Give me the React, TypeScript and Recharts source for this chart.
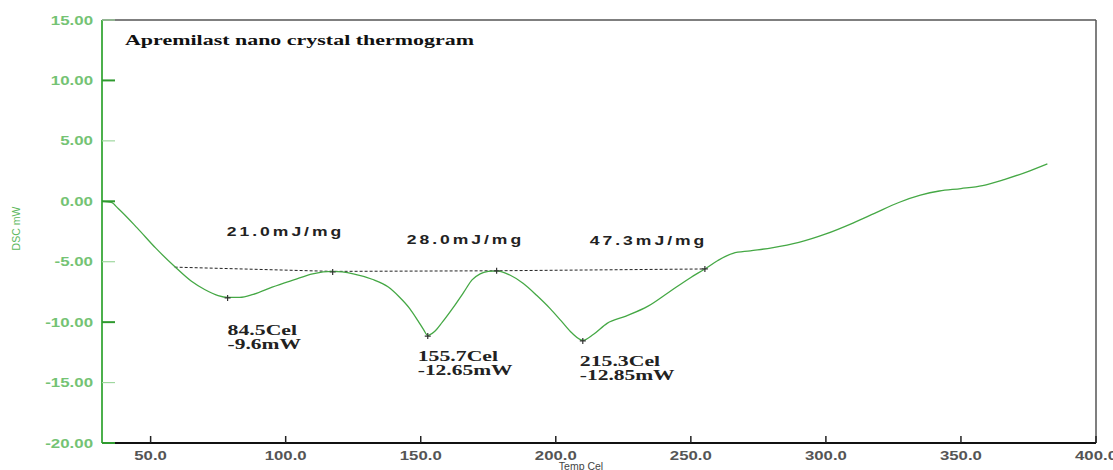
import React from 'react';
import { ComposedChart, Line, Scatter, XAxis, YAxis, ReferenceLine, ReferenceDot, Label } from 'recharts';

// temperature (Cel) / heat flow (mW)
const curve: [number, number][] = [
	[32.2, 0.0], [35.5, -0.1], [38, -0.6], [45, -2.2], [52, -3.9], [58.9, -5.4],
	[65, -6.6], [70, -7.3], [75, -7.8], [78.5, -7.95], [83, -7.95], [88, -7.7],
	[95, -7.1], [103, -6.5], [110, -6.0], [117.4, -5.8], [125, -6.0], [132, -6.45],
	[138, -7.1], [142, -7.9], [146, -8.9], [149, -9.9], [151, -10.6], [152.6, -11.1],
	[155, -10.8], [158, -10.0], [162, -8.8], [166, -7.5], [169, -6.5], [172, -6.0],
	[175, -5.8], [178.1, -5.75], [183, -6.1], [188, -6.8], [193, -7.8], [198, -8.9],
	[202, -9.9], [206, -10.9], [210, -11.5], [214, -11.0], [219, -10.1], [226, -9.5],
	[234, -8.7], [242, -7.5], [250, -6.3], [255.2, -5.6], [260, -4.9], [265.6, -4.3],
	[272, -4.1], [280, -3.85], [290, -3.4], [300, -2.7], [310, -1.8], [318, -1.0],
	[327, -0.1], [335, 0.5], [342, 0.85], [350, 1.05], [358, 1.3], [366, 1.8],
	[374, 2.4], [382, 3.1],
];

const baseline: [number, number][] = [[58.9, -5.45], [117.4, -5.8], [178.1, -5.75], [255.2, -5.6]];

const peakMarks: [number, number][] = [
	[78.5, -8.0], [117.4, -5.85], [152.6, -11.15], [178.1, -5.75], [210, -11.55], [255.2, -5.6],
];

const enthalpyLabels = [
	{ x: 78.2, y: -2.87, text: '21.0mJ/mg' },
	{ x: 144.8, y: -3.53, text: '28.0mJ/mg' },
	{ x: 212.6, y: -3.62, text: '47.3mJ/mg' },
];

const peakLabels = [
	{ x: 78.5, y: -11.1, temp: '84.5Cel', power: '-9.6mW' },
	{ x: 148.9, y: -13.2, temp: '155.7Cel', power: '-12.65mW' },
	{ x: 208.9, y: -13.6, temp: '215.3Cel', power: '-12.85mW' },
];

const xTicks = [50, 100, 150, 200, 250, 300, 350, 400];
const yTicks = [-20, -15, -10, -5, 0, 5, 10, 15];

const toPts = (arr: [number, number][]) => arr.map(([x, y]) => ({ x, y }));

const XTick = (props: any) => {
	const { x, y, payload } = props;
	return (
		<g>
			<line x1={x} y1={y} x2={x} y2={y - 7} stroke="#222" strokeWidth={1.5} />
			<g transform={`translate(${x},${y + 17}) scale(1.4,1)`}>
				<text x={0} y={0} textAnchor="middle" fill="#555" fontSize={12} fontWeight="bold" fontFamily="Arial, 'Liberation Sans'">
					{Number(payload.value).toFixed(1)}
				</text>
			</g>
		</g>
	);
};

const YTick = (props: any) => {
	const { x, y, payload } = props;
	const major = payload.value % 10 === 0;
	return (
		<g>
			<line x1={x} y1={y} x2={x + 13} y2={y} stroke={major ? '#2f9a2f' : '#9fd79f'} strokeWidth={major ? 2 : 1.2} />
			<g transform={`translate(${x - 9},${y + 4.5}) scale(1.35,1)`}>
				<text x={0} y={0} textAnchor="end" fill="#74c374" fontSize={12.5} fontWeight="bold" fontFamily="Arial, 'Liberation Sans'">
					{Number(payload.value).toFixed(2)}
				</text>
			</g>
		</g>
	);
};

const Cross = (props: any) => {
	const { cx, cy } = props;
	return <path d={`M${cx - 3},${cy}H${cx + 3}M${cx},${cy - 3}V${cy + 3}`} stroke="#333" strokeWidth={1.2} fill="none" />;
};

export default function App() {
	return (
		<div style={{ position: 'absolute', left: 0, top: 0, width: 1113, height: 470, background: '#fff' }}>
			<ComposedChart width={1113} height={470} margin={{ top: 20, right: 17, bottom: 0, left: 0 }}>
				<XAxis
					type="number"
					dataKey="x"
					domain={[32, 400]}
					ticks={xTicks}
					interval={0}
					height={27}
					tickSize={0}
					tickMargin={0}
					tickLine={false}
					tick={<XTick />}
					axisLine={{ stroke: '#111', strokeWidth: 2 }}
					allowDataOverflow
				>
					<Label
						content={(p: any) => (
							<text x={581} y={p.viewBox.y + 27} textAnchor="middle" fill="#444" fontSize={10.5} fontFamily="Arial, 'Liberation Sans'">
								Temp Cel
							</text>
						)}
					/>
				</XAxis>
				<YAxis
					type="number"
					dataKey="y"
					domain={[-20, 15]}
					ticks={yTicks}
					interval={0}
					width={102}
					tickSize={0}
					tickMargin={0}
					tickLine={false}
					tick={<YTick />}
					axisLine={{ stroke: '#4cb04c', strokeWidth: 2 }}
					allowDataOverflow
				>
					<Label
						content={(p: any) => (
							<text
								x={0}
								y={0}
								transform={`translate(20,${p.viewBox.y + p.viewBox.height / 2 - 3}) rotate(-90)`}
								textAnchor="middle"
								fill="#5cb85c"
								fontSize={10.5}
								fontFamily="Arial, 'Liberation Sans'"
							>
								DSC mW
							</text>
						)}
					/>
				</YAxis>
				<ReferenceLine y={15} stroke="#555" strokeWidth={1.5} />
				<ReferenceLine x={400} stroke="#555" strokeWidth={1.5} />
				<Line
					data={toPts(baseline)}
					dataKey="y"
					type="linear"
					stroke="#222"
					strokeWidth={1}
					strokeDasharray="3 2"
					dot={false}
					isAnimationActive={false}
				/>
				<Line
					data={toPts(curve)}
					dataKey="y"
					type="monotone"
					stroke="#45a845"
					strokeWidth={1.3}
					dot={false}
					isAnimationActive={false}
				/>
				<Scatter data={toPts(peakMarks)} dataKey="y" shape={<Cross />} isAnimationActive={false} />
				{enthalpyLabels.map((a) => (
					<ReferenceDot
						key={a.text}
						x={a.x}
						y={a.y}
						r={0}
						shape={(p: any) => (
							<g transform={`translate(${p.cx},${p.cy}) scale(1.35,1)`}>
								<text x={0} y={0} fill="#222" fontSize={13} fontWeight="bold" letterSpacing={2.2} fontFamily="Arial, 'Liberation Sans'">
									{a.text}
								</text>
							</g>
						)}
					/>
				))}
				{peakLabels.map((a) => (
					<React.Fragment key={a.temp}>
						<ReferenceDot
							x={a.x}
							y={a.y}
							r={0}
							shape={(p: any) => (
								<g transform={`translate(${p.cx},${p.cy}) scale(1.5,1)`}>
									<text x={0} y={0} fill="#222" fontSize={14.5} fontWeight="bold" fontFamily="'Times New Roman', 'Liberation Serif', serif">
										{a.temp}
									</text>
								</g>
							)}
						/>
						<ReferenceDot
							x={a.x}
							y={a.y}
							r={0}
							shape={(p: any) => (
								<g transform={`translate(${p.cx},${p.cy + 14}) scale(1.48,1)`}>
									<text x={0} y={0} fill="#222" fontSize={14.5} fontWeight="bold" fontFamily="'Times New Roman', 'Liberation Serif', serif">
										{a.power}
									</text>
								</g>
							)}
						/>
					</React.Fragment>
				))}
			</ComposedChart>
			<svg width={1113} height={470} style={{ position: 'absolute', left: 0, top: 0, pointerEvents: 'none' }}>
				<text
					x={125}
					y={45}
					textLength={349}
					lengthAdjust="spacingAndGlyphs"
					fill="#111"
					fontSize={15}
					fontWeight="bold"
					fontFamily="'Times New Roman', 'Liberation Serif', serif"
				>
					Apremilast nano crystal thermogram
				</text>
			</svg>
		</div>
	);
}
